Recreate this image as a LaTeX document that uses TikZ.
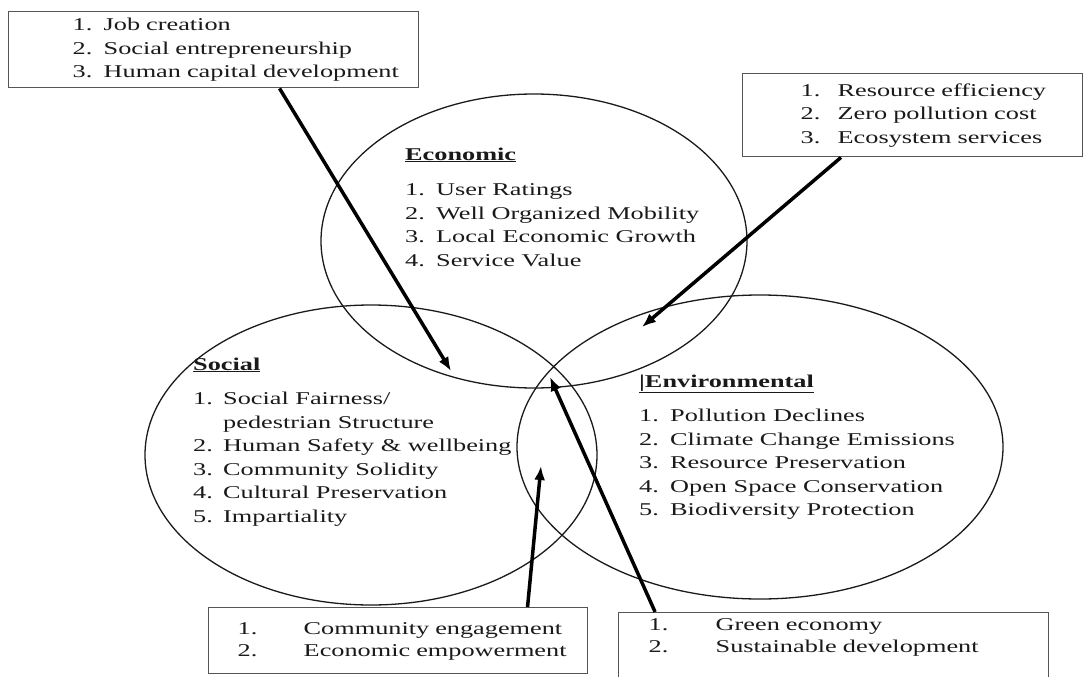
\documentclass[tikz,border=0pt]{standalone}
\usepackage{fontspec}
\setmainfont[FakeStretch=1.46]{Liberation Serif}
\usepackage{tikz}
\usetikzlibrary{calc}
\usetikzlibrary{shapes.geometric}
\usetikzlibrary{arrows.meta}

\definecolor{ink}{HTML}{1A1A1A}
\definecolor{rim}{HTML}{555555}

\tikzset{
  ring/.style={ellipse, draw=ink, line width=1.3pt, inner sep=0pt},
  box/.style={draw=rim, line width=1.4pt, inner sep=0pt, anchor=north west, fill=white, text=ink},
  lst/.style={anchor=base west, inner sep=0pt, text=ink},
  pointer/.style={line width=3.5pt, -{Latex[length=14pt,width=11pt]}}
}

\begin{document}
\begin{tikzpicture}[x=1pt, y=-1pt]
\fontsize{18}{23.5}\selectfont
\useasboundingbox (0,0) rectangle (1092,677);

% the three pillars
\node[ring, minimum width=426pt, minimum height=294pt] (econ) at (534,241) {};
\node[ring, minimum width=452pt, minimum height=300pt] (soc) at (371,455) {};
\node[ring, minimum width=486pt, minimum height=304pt] (envi) at (760,447) {};

\node[lst] (econtxt) at (405,160) {\begin{tabular}[t]{@{}p{31pt}@{}l@{}}
  \multicolumn{2}{@{}l@{}}{\underline{\textbf{Economic}}}\\[12pt]
  1. & User Ratings\\
  2. & Well Organized Mobility\\
  3. & Local Economic Growth\\
  4. & Service Value
\end{tabular}};

\node[lst] (soctxt) at (193,370) {\begin{tabular}[t]{@{}p{30pt}@{}l@{}}
  \multicolumn{2}{@{}l@{}}{\underline{\textbf{Social}}}\\[11pt]
  1. & Social Fairness/\\
     & pedestrian Structure\\
  2. & Human Safety \& wellbeing\\
  3. & Community Solidity\\
  4. & Cultural Preservation\\
  5. & Impartiality
\end{tabular}};

\node[lst] (envtxt) at (639,387) {\begin{tabular}[t]{@{}p{31pt}@{}l@{}}
  \multicolumn{2}{@{}l@{}}{\underline{\textbf{|Environmental}}}\\[11pt]
  1. & Pollution Declines\\
  2. & Climate Change Emissions\\
  3. & Resource Preservation\\
  4. & Open Space Conservation\\
  5. & Biodiversity Protection
\end{tabular}};

% outcome boxes
\node[box, minimum width=410pt, minimum height=76pt, text width=410pt] (jobs) at (8,11)
  {\hspace*{64pt}\begin{tabular}[t]{@{}p{31pt}@{}l@{}}
  1. & Job creation\\
  2. & Social entrepreneurship\\
  3. & Human capital development
  \end{tabular}};

\node[box, minimum width=340pt, minimum height=83pt, text width=340pt] (ecosys) at (742,73)
  {\hspace*{58pt}\begin{tabular}[t]{@{}p{37pt}@{}l@{}}
  1. & Resource efficiency\\
  2. & Zero pollution cost\\
  3. & Ecosystem services
  \end{tabular}};

\node[box, minimum width=379pt, minimum height=66pt, text width=379pt,
      font=\fontsize{18}{22}\selectfont] (engage) at (208,607)
  {\hspace*{29pt}\begin{tabular}[t]{@{}p{66pt}@{}l@{}}
  1. & Community engagement\\
  2. & Economic empowerment
  \end{tabular}};

\node[box, minimum width=430pt, minimum height=70pt, text width=430pt,
      font=\fontsize{18}{22}\selectfont] (green) at (618,612)
  {\hspace*{30pt}\begin{tabular}[t]{@{}p{67pt}@{}l@{}}
  1. & Green economy\\
  2. & Sustainable development\\
     &
  \end{tabular}};

% arrows into the overlaps
\coordinate (p1) at (451,371);
\coordinate (p2) at (642,327);
\coordinate (p3) at (541,466);
\coordinate (p4) at (550,377);

\draw[pointer] ($(jobs.south west)!0.66!(jobs.south east)$) -- (p1);
\draw[pointer] ($(ecosys.south west)!0.29!(ecosys.south east)$) -- (p2);
\draw[pointer] ($(engage.north west)!0.84!(engage.north east)$) -- (p3);
\draw[pointer] ($(green.north west)!0.086!(green.north east)$) -- (p4);
\end{tikzpicture}
\end{document}
